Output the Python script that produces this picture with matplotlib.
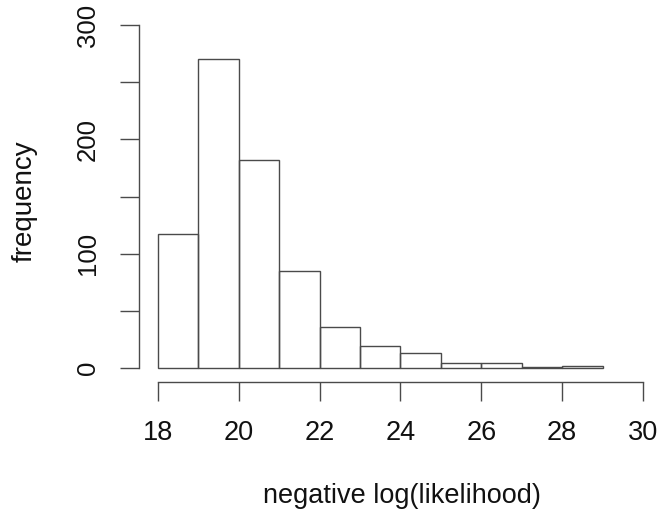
import matplotlib
matplotlib.use("Agg")
import matplotlib.pyplot as plt
import numpy as np

breaks = [18, 19, 20, 21, 22, 23, 24, 25, 26, 27, 28, 29]
counts = [117, 270, 182, 85, 36, 19, 13, 4, 4, 1, 2]
xticks = [18, 20, 22, 24, 26, 28, 30]
yticks = [0, 50, 100, 150, 200, 250, 300]
yticklabels = ["0", "", "100", "", "200", "", "300"]
xlabel = "negative log(likelihood)"
ylabel = "frequency"

plt.rcParams['font.family'] = ['Liberation Sans', 'DejaVu Sans']
lc = '#4a4a4a'

fig = plt.figure(figsize=(6.62, 5.17), dpi=100)
ax = fig.add_axes([138.6/662, (517-381.7)/517, (662.4-138.6)/662, (381.7-11.4)/517])

left = np.array(breaks[:-1])
width = np.diff(breaks)
ax.bar(left, counts, width=width, align='edge', fill=False, edgecolor=lc, linewidth=1.0)

ax.set_xlim(17.52, 30.48)
ax.set_ylim(-12, 312)
for s in ['top', 'right']:
    ax.spines[s].set_visible(False)
ax.spines['left'].set_bounds(0, 300)
ax.spines['bottom'].set_bounds(18, 30)
for s in ['left', 'bottom']:
    ax.spines[s].set_color(lc)
    ax.spines[s].set_linewidth(1.0)

ax.set_xticks(xticks)
ax.set_xticklabels([str(t) for t in xticks])
ax.set_yticks(yticks)
ax.set_yticklabels(yticklabels, rotation=90, va='center')
ax.tick_params(axis='both', direction='out', length=14, width=1.0, color=lc,
               labelcolor='#111111')
ax.tick_params(axis='x', pad=13.5, labelsize=19.5)
ax.tick_params(axis='y', pad=14, labelsize=18.5)

fig.text(401.5/662, 1 - 496/517, xlabel, ha='center', va='center', fontsize=19.5, color='#111111')
fig.text(25/662, 1 - 201/517, ylabel, ha='center', va='center', rotation=90, fontsize=20, color='#111111')

fig.savefig("out.png", dpi=100)
